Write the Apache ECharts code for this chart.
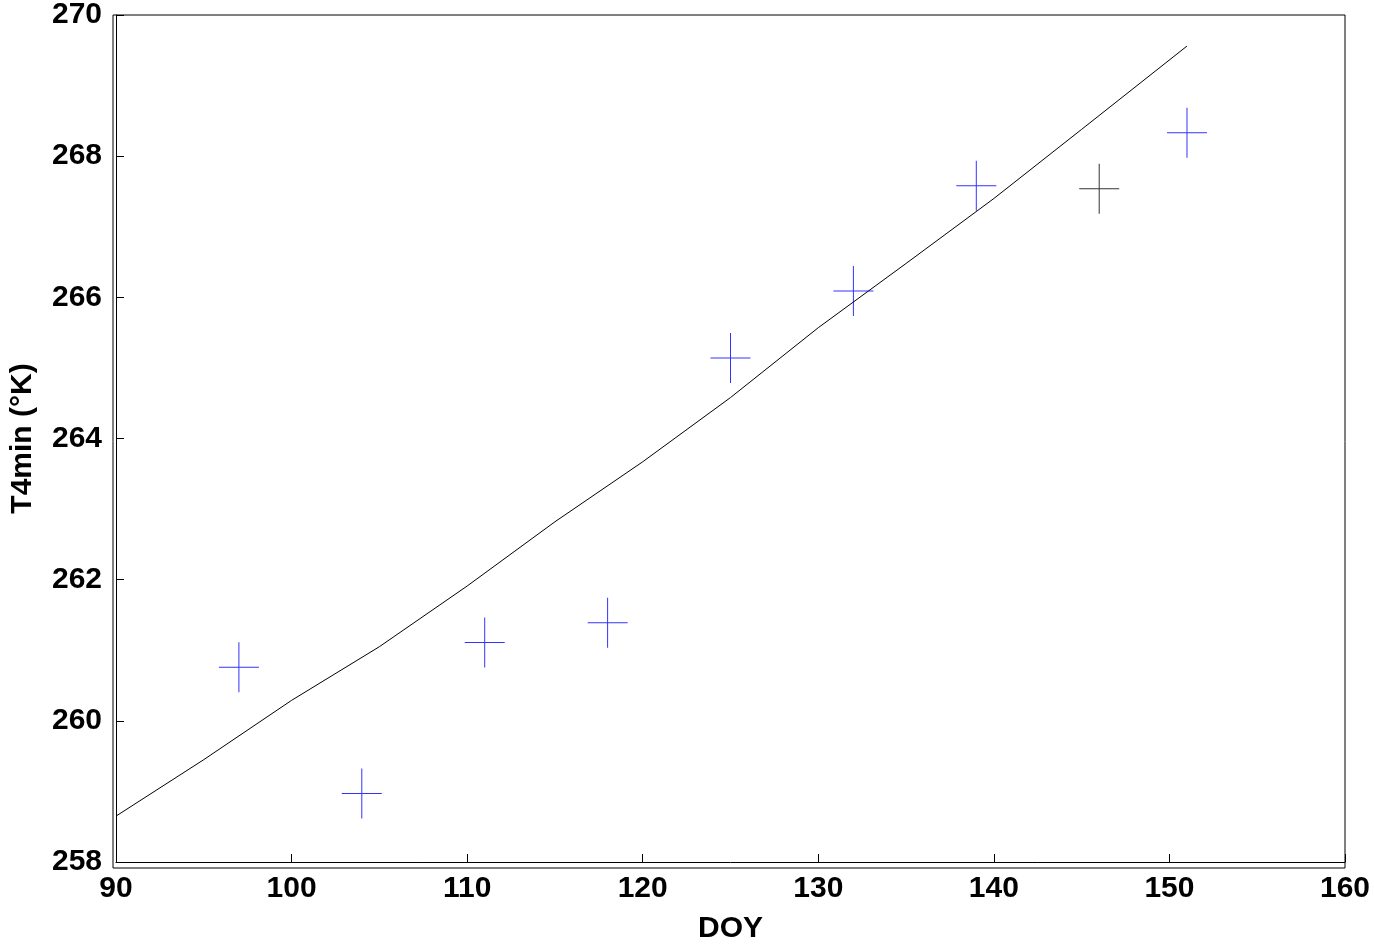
<!DOCTYPE html><html><head><meta charset="utf-8"><script src="https://cdn.jsdelivr.net/npm/echarts@6/dist/echarts.min.js"></script></head><body style="margin:0;background:#fff"><div id="c" style="width:1374px;height:949px"></div><script>
const obsDoy=[97,104,111,118,125,132,139,146,151];
const obsT=[260.76,258.97,261.11,261.39,265.14,266.09,267.58,267.54,268.33];
const obsColor=['#0000ff','#0000ff','#0000ff','#0000ff','#0000ff','#0000ff','#0000ff','#000000','#0000ff'];
const fitDoy=[90,95,100,105,110,115,120,125,130,135,140,145,151];
const fitT=[258.65,259.45,260.29,261.05,261.91,262.82,263.67,264.58,265.57,266.48,267.4,268.38,269.56];
const plus='path://M48.75,0 H51.25 V100 H48.75 Z M0,49 H100 V51 H0 Z';
const ch=echarts.init(document.getElementById('c'));
const font={fontFamily:'Liberation Sans, Arial',fontWeight:'bold',fontSize:30,color:'#000'};
ch.setOption({animation:false,
grid:{left:113,right:29,top:15,bottom:81},
xAxis:{type:'value',min:90,max:160,interval:10,name:'DOY',nameLocation:'middle',nameGap:52,nameTextStyle:font,
axisLabel:Object.assign({margin:12},font),axisTick:{inside:true,length:8,lineStyle:{color:'#000'}},
axisLine:{lineStyle:{color:'#000'}},splitLine:{show:false}},
yAxis:{type:'value',min:258,max:270,interval:2,name:'T4min (°K)',nameLocation:'middle',nameGap:78,nameTextStyle:font,
axisLabel:Object.assign({margin:14},font),axisTick:{inside:true,length:8,lineStyle:{color:'#000'}},
axisLine:{lineStyle:{color:'#000'}},splitLine:{show:false}},
graphic:[{type:'rect',shape:{x:113,y:15,width:1232,height:853},style:{fill:'none',stroke:'#000',lineWidth:1},silent:true}],
series:[
{type:'line',data:fitDoy.map((d,i)=>[d,fitT[i]]),smooth:false,showSymbol:false,lineStyle:{color:'#000',width:1}},
{type:'scatter',symbol:plus,symbolSize:[40,50],data:obsDoy.map((d,i)=>({value:[d,obsT[i]],itemStyle:{color:obsColor[i]}}))}
]});
</script></body></html>
